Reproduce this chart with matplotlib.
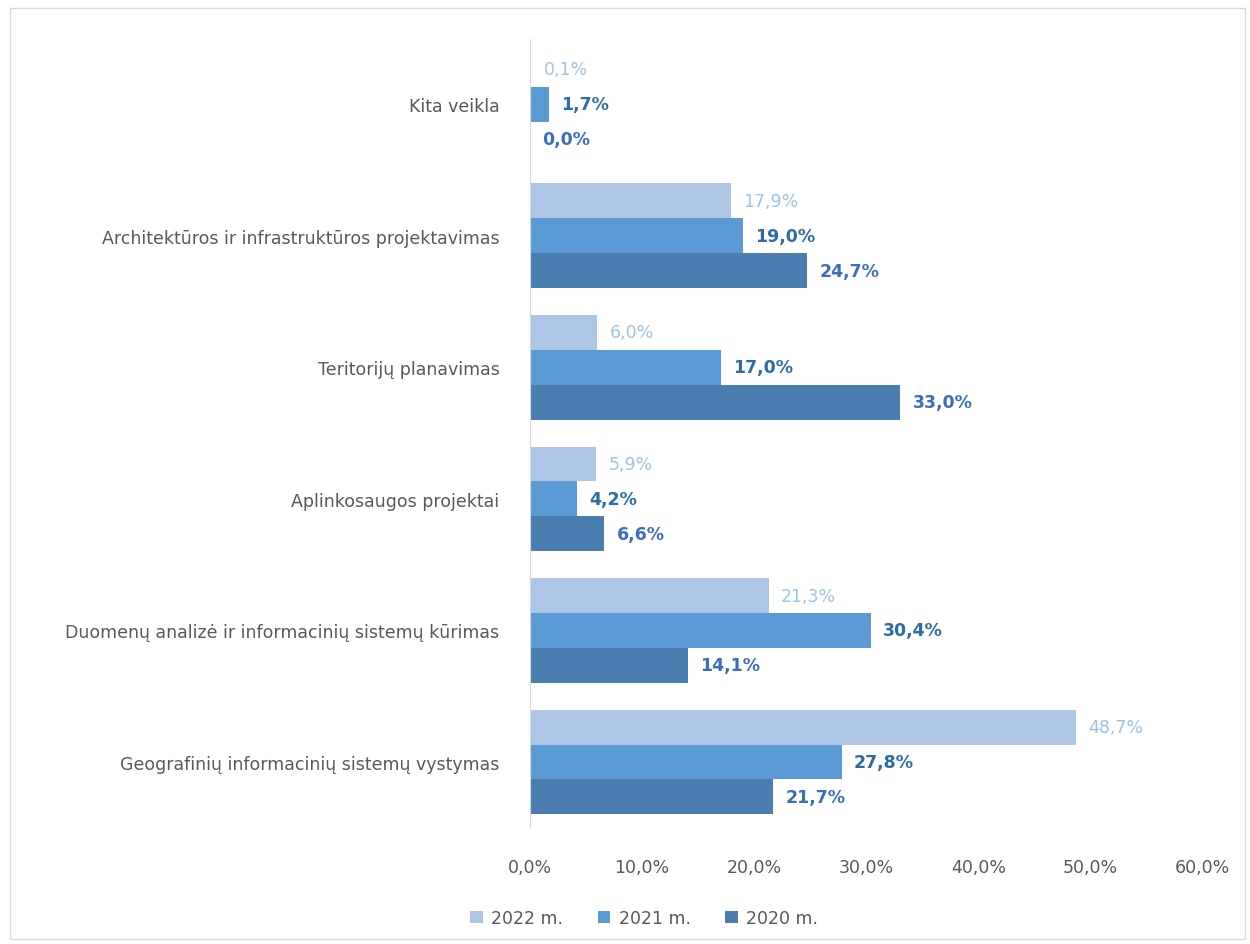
import matplotlib.pyplot as plt
import numpy as np
from matplotlib.patches import Rectangle

# categories listed bottom -> top
categories = ['Geografinių informacinių sistemų vystymas',
              'Duomenų analizė ir informacinių sistemų kūrimas',
              'Aplinkosaugos projektai',
              'Teritorijų planavimas',
              'Architektūros ir infrastruktūros projektavimas',
              'Kita veikla']
v2022 = [48.7, 21.3, 5.9, 6.0, 17.9, 0.1]
v2021 = [27.8, 30.4, 4.2, 17.0, 19.0, 1.7]
v2020 = [21.7, 14.1, 6.6, 33.0, 24.7, 0.0]
series_names = ['2022 m.', '2021 m.', '2020 m.']
xticks = [0, 10, 20, 30, 40, 50, 60]

plt.rcParams['font.family'] = ['DejaVu Sans']

fig = plt.figure(figsize=(12.5, 9.45), dpi=100)
ax = fig.add_axes([0.424, 0.123, 0.538, 0.835])

bar_colors = ['#aec6e6', '#5b9bd5', '#4a7eb0']
label_colors = ['#9dc3e6', '#2e6ca8', '#3d6cc0']
label_weights = ['normal', 'bold', 'bold']

y = np.arange(len(categories))
h = 0.266
offsets = [h, 0, -h]
for vals, off, c, lc, lw, name in zip([v2022, v2021, v2020], offsets, bar_colors,
                                      label_colors, label_weights, series_names):
    bars = ax.barh(y + off, vals, height=h, color=c, label=name)
    for b, v in zip(bars, vals):
        ax.annotate(f"{v:.1f}".replace('.', ',') + '%',
                    (b.get_width(), b.get_y() + b.get_height() / 2),
                    xytext=(9, 0), textcoords='offset points',
                    va='center', ha='left', fontsize=12.5, color=lc, fontweight=lw)

ax.set_xlim(0, 60)
ax.set_ylim(-0.5, len(categories) - 0.5)
ax.set_xticks(xticks)
ax.set_xticklabels([f"{t:.1f}".replace('.', ',') + '%' for t in xticks])
ax.set_yticks(y)
ax.set_yticklabels(categories)
ax.tick_params(axis='both', length=0, labelsize=12.5, colors='#595959')
ax.tick_params(axis='y', pad=22)
ax.tick_params(axis='x', pad=22)
for s in ['top', 'right', 'bottom']:
    ax.spines[s].set_visible(False)
ax.spines['left'].set_color('#d9d9d9')

ax.legend(loc='upper center', bbox_to_anchor=(0.17, -0.083), ncol=3, frameon=False,
          fontsize=12.5, handlelength=0.7, handleheight=0.7, columnspacing=2.0,
          handletextpad=0.5, labelcolor='#595959')

fig.patches.append(Rectangle((0.008, 0.005), 0.988, 0.985, transform=fig.transFigure,
                             fill=False, edgecolor='#d9d9d9', linewidth=1))

plt.savefig('out.png', dpi=100)
